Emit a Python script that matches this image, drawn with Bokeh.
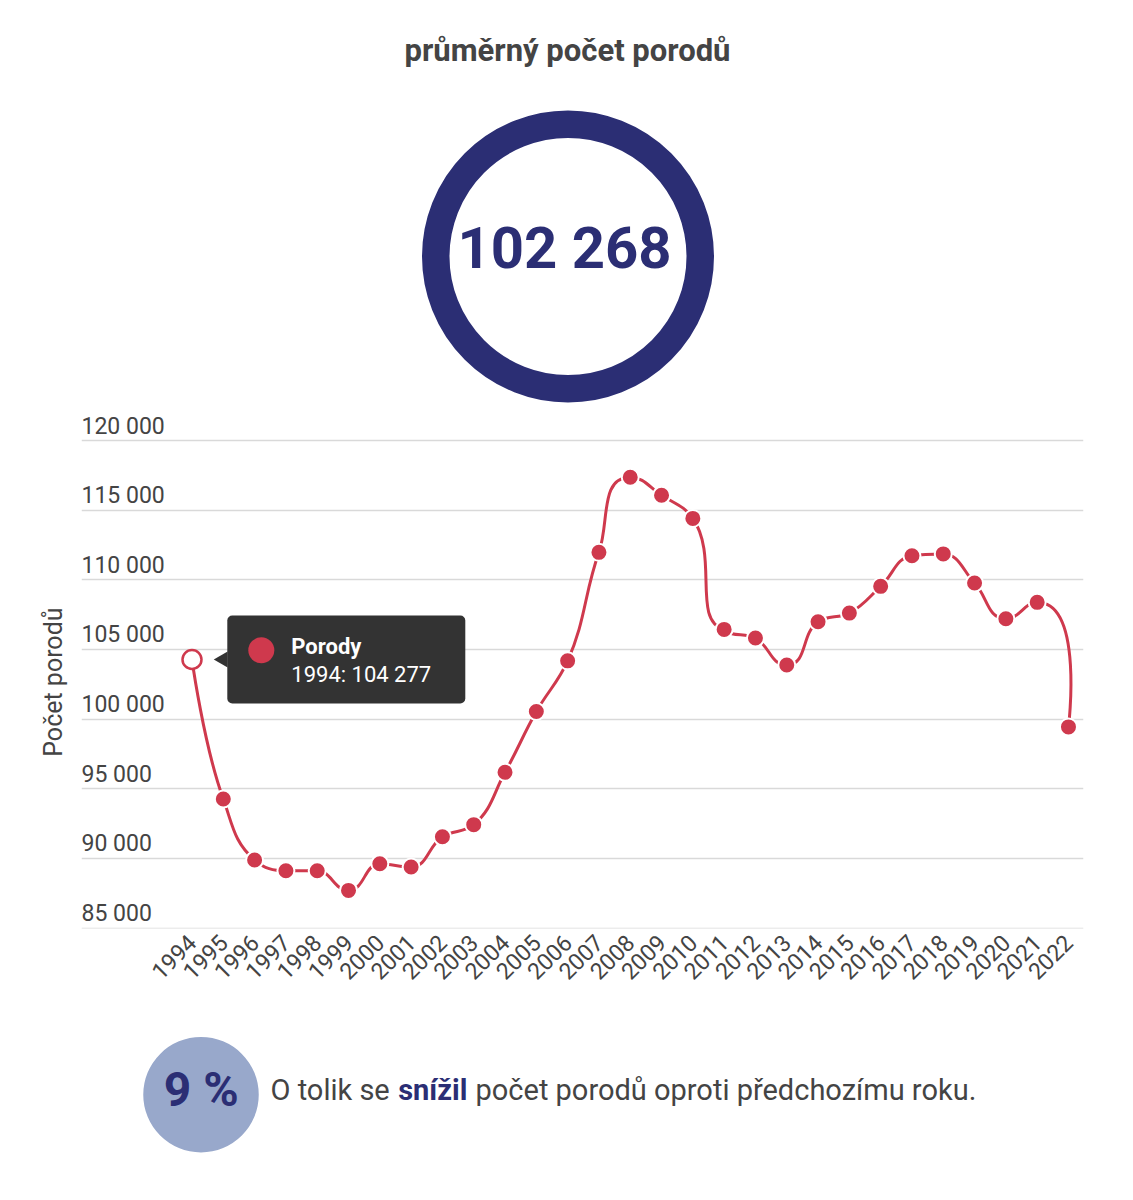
import math
from bokeh.plotting import figure
from bokeh.layouts import column, row
from bokeh.models import Range1d, FixedTicker, Grid
from bokeh.core.properties import value
from bokeh.embed import file_html
from bokeh.resources import INLINE

# ---------------- data ----------------
title_text = "průměrný počet porodů"
average_births = 102268
series_name = "Porody"
y_axis_title = "Počet porodů"
years = list(range(1994, 2023))
births = [104277, 94260, 89880, 89110, 89110, 87700, 89610, 89380, 91550, 92420,
          96180, 100540, 104180, 111970, 117360, 116070, 114410, 106440, 105820,
          103880, 106990, 107610, 109530, 111730, 111860, 109770, 107200, 108380,
          99440]
y_ticks = [85000, 90000, 95000, 100000, 105000, 110000, 115000, 120000]
y_tick_labels = ["85 000", "90 000", "95 000", "100 000", "105 000", "110 000",
                 "115 000", "120 000"]
change_pct = 9
sentence_parts = ["O tolik se", "snížil", "počet porodů oproti předchozímu roku."]

# ---------------- style ----------------
FONT = "Roboto"
NAVY = "#2b2e74"
RED = "#cf394d"
GRAY = "#444444"
LIGHT = "#98a8cb"
W = 1117


def fmt(n):
    return f"{n:,}".replace(",", " ")


def blank(width, height, flip=True):
    yr = Range1d(height, 0) if flip else Range1d(0, height)
    f = figure(width=width, height=height, x_range=Range1d(0, width), y_range=yr,
               x_axis_type=None, y_axis_type=None,
               output_backend="svg", toolbar_location=None, min_border=0,
               outline_line_color=None)
    f.grid.visible = False
    return f


# ---------------- header ----------------
HDR_H = 408
hdr = blank(W, HDR_H)
hdr.text(x=[567], y=[50], text=[title_text], text_align="center", text_baseline="middle",
         text_font=value(FONT), text_font_size="31px", text_font_style="bold",
         text_color=GRAY)
hdr.scatter(x=[567.5], y=[256], marker="circle", size=264.5, fill_color=None,
            line_color=NAVY, line_width=27.5)
hdr.text(x=[564], y=[247.5], text=[fmt(average_births)], text_align="center",
         text_baseline="middle", text_font=value(FONT), text_font_size="58px",
         text_font_style="bold", text_color=NAVY)

# ---------------- chart ----------------
CH_H = 622
LEFT = 81
CH_W = W - LEFT
x0, x1 = 1990.47, 2022.48
frame_w = CH_W - 34
frame_h = CH_H - 4 - 102
ky = 69.64 / 5000
y0 = 85000 - 0.5 / ky
y1 = y0 + frame_h / ky
kx = frame_w / (x1 - x0)

# y axis title panel
lab = blank(LEFT, CH_H, flip=False)
lab.text(x=[53], y=[CH_H - 325], text=[y_axis_title], angle=math.pi / 2,
         text_align="center", text_baseline="middle", text_font=value(FONT),
         text_font_size="25px", text_color=GRAY)

ch = figure(width=CH_W, height=CH_H, x_range=Range1d(x0, x1), y_range=Range1d(y0, y1),
            y_axis_type=None, output_backend="svg", toolbar_location=None,
            min_border_left=0, min_border_right=34, min_border_top=4,
            min_border_bottom=102, outline_line_color=None)
ch.xgrid.visible = False
ch.add_layout(Grid(dimension=1, ticker=FixedTicker(ticks=y_ticks),
                   grid_line_color="#d9d9d9", grid_line_width=1.5))

ch.xaxis.ticker = FixedTicker(ticks=years)
ch.xaxis.axis_line_color = None
ch.xaxis.major_tick_line_color = None
ch.xaxis.minor_tick_line_color = None
ch.xaxis.major_label_orientation = math.pi / 4
ch.xaxis.major_label_text_font = FONT
ch.xaxis.major_label_text_font_size = "23px"
ch.xaxis.major_label_text_color = GRAY
ch.xaxis.major_label_standoff = 4

# y tick labels above gridlines
ch.text(x=[x0] * len(y_ticks), y=y_ticks, text=y_tick_labels, text_align="left",
        text_baseline="middle", y_offset=-14.5, text_font=value(FONT),
        text_font_size="23px", text_color=GRAY)

# spline (Highcharts-like) via bezier segments
px = [x * kx for x in years]
py = [-v * ky for v in births]
n = len(px)
lcx, lcy, rcx, rcy = px[:], py[:], px[:], py[:]
sm = 1.5
den = sm + 1
for i in range(1, n - 1):
    x, y = px[i], py[i]
    lx, ly = px[i - 1], py[i - 1]
    nx, ny = px[i + 1], py[i + 1]
    lCx = (sm * x + lx) / den
    lCy = (sm * y + ly) / den
    rCx = (sm * x + nx) / den
    rCy = (sm * y + ny) / den
    dL = math.hypot(lCx - x, lCy - y)
    dR = math.hypot(rCx - x, rCy - y)
    aL = math.atan2(lCy - y, lCx - x)
    aR = math.atan2(rCy - y, rCx - x)
    j = math.pi / 2 + (aL + aR) / 2
    if abs(aL - j) > math.pi / 2:
        j -= math.pi
    lCx = x + math.cos(j) * dL
    lCy = y + math.sin(j) * dL
    rCx = x + math.cos(math.pi + j) * dR
    rCy = y + math.sin(math.pi + j) * dR
    if rCy > y and rCy > ny:
        rCy = max(y, ny)
        lCy = 2 * y - rCy
    elif rCy < y and rCy < ny:
        rCy = min(y, ny)
        lCy = 2 * y - rCy
    if lCy > ly and lCy > y:
        lCy = max(ly, y)
        rCy = 2 * y - lCy
    elif lCy < ly and lCy < y:
        lCy = min(ly, y)
        rCy = 2 * y - lCy
    lcx[i], lcy[i], rcx[i], rcy[i] = lCx, lCy, rCx, rCy

ch.bezier(x0=[px[i] / kx for i in range(n - 1)], y0=[-py[i] / ky for i in range(n - 1)],
          x1=[px[i + 1] / kx for i in range(n - 1)], y1=[-py[i + 1] / ky for i in range(n - 1)],
          cx0=[rcx[i] / kx for i in range(n - 1)], cy0=[-rcy[i] / ky for i in range(n - 1)],
          cx1=[lcx[i + 1] / kx for i in range(n - 1)], cy1=[-lcy[i + 1] / ky for i in range(n - 1)],
          line_color=RED, line_width=3)

ch.scatter(x=years[1:], y=births[1:], marker="circle", size=17, fill_color=RED,
           line_color="white", line_width=2)
ch.scatter(x=years[:1], y=births[:1], marker="circle", size=19, fill_color="white",
           line_color=RED, line_width=2.5)

# tooltip for the first point
tx, ty = years[0], births[0]
ch.rect(x=[tx + 154.3 / kx], y=[ty], width=238, height=88, width_units="screen",
        height_units="screen", fill_color="#333333", line_color=None, border_radius=5)
ch.scatter(x=[tx + 31 / kx], y=[ty], marker="triangle", size=16, angle=math.pi / 2,
           fill_color="#333333", line_color=None)
ch.scatter(x=[tx + 69.3 / kx], y=[ty + 9.2 / ky], marker="circle", size=26,
           fill_color=RED, line_color=None)
ch.text(x=[tx], y=[ty], text=[series_name], x_offset=99.3, y_offset=-13,
        text_align="left", text_baseline="middle", text_font=value(FONT),
        text_font_size="22px", text_font_style="bold", text_color="white")
ch.text(x=[tx], y=[ty], text=[f"{years[0]}: {fmt(births[0])}"], x_offset=99.3,
        y_offset=14.6, text_align="left", text_baseline="middle", text_font=value(FONT),
        text_font_size="22px", text_color="white")

# ---------------- footer ----------------
FT_H = 162
ft = blank(W, FT_H)
ft.scatter(x=[200.5], y=[64.2], marker="circle", size=115.5, fill_color=LIGHT,
           line_color=None)
ft.text(x=[200.8], y=[58.8], text=[f"{change_pct} %"], text_align="center",
        text_baseline="middle", text_font=value(FONT), text_font_size="48px",
        text_font_style="bold", text_color=NAVY)
ft.text(x=[270], y=[59.8], text=[sentence_parts[0]], text_align="left",
        text_baseline="middle", text_font=value(FONT), text_font_size="29px",
        text_color=GRAY)
ft.text(x=[397.7], y=[59.8], text=[sentence_parts[1]], text_align="left",
        text_baseline="middle", text_font=value(FONT), text_font_size="29px",
        text_font_style="bold", text_color=NAVY)
ft.text(x=[475], y=[59.8], text=[sentence_parts[2]], text_align="left",
        text_baseline="middle", text_font=value(FONT), text_font_size="29px",
        text_color=GRAY)

layout = column(hdr, row(lab, ch, spacing=0), ft, spacing=0)
open("out.html", "w").write(file_html(layout, INLINE))
